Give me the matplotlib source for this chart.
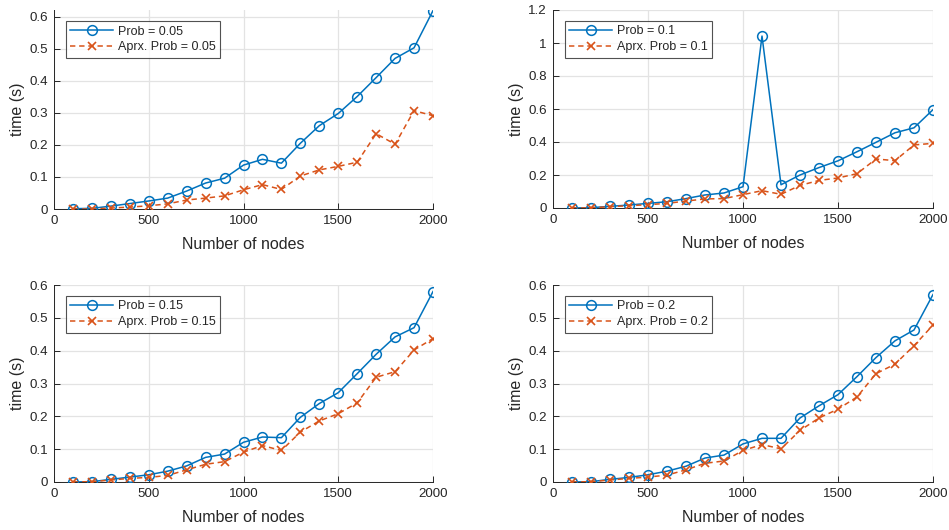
import matplotlib
matplotlib.use("Agg")
import matplotlib.pyplot as plt
import numpy as np

plt.rcParams['font.family'] = ['Liberation Sans', 'DejaVu Sans']

nodes = [100, 200, 300, 400, 500, 600, 700, 800, 900, 1000,
         1100, 1200, 1300, 1400, 1500, 1600, 1700, 1800, 1900, 2000]

exact_005 = [0.001, 0.002, 0.009, 0.017, 0.025, 0.034, 0.056, 0.081, 0.096, 0.137,
             0.155, 0.143, 0.205, 0.260, 0.298, 0.351, 0.410, 0.470, 0.503, 0.619]
aprx_005 = [0.000, 0.000, 0.003, 0.006, 0.010, 0.016, 0.028, 0.034, 0.041, 0.060,
            0.076, 0.061, 0.103, 0.122, 0.133, 0.146, 0.235, 0.202, 0.307, 0.291]

exact_01 = [0.000, 0.002, 0.010, 0.018, 0.028, 0.038, 0.057, 0.079, 0.091, 0.129,
            1.042, 0.141, 0.200, 0.245, 0.286, 0.341, 0.398, 0.456, 0.486, 0.596]
aprx_01 = [0.000, 0.001, 0.008, 0.014, 0.020, 0.028, 0.042, 0.055, 0.057, 0.081,
           0.105, 0.083, 0.137, 0.167, 0.182, 0.208, 0.297, 0.287, 0.382, 0.392]

exact_015 = [0.000, 0.001, 0.008, 0.015, 0.022, 0.033, 0.049, 0.075, 0.085, 0.121,
             0.137, 0.135, 0.197, 0.239, 0.272, 0.330, 0.389, 0.442, 0.470, 0.580]
aprx_015 = [0.000, 0.001, 0.006, 0.011, 0.014, 0.020, 0.037, 0.054, 0.062, 0.091,
            0.111, 0.096, 0.152, 0.186, 0.208, 0.241, 0.319, 0.336, 0.402, 0.437]

exact_02 = [0.000, 0.001, 0.008, 0.014, 0.022, 0.033, 0.048, 0.073, 0.082, 0.116,
            0.133, 0.133, 0.195, 0.232, 0.266, 0.321, 0.379, 0.430, 0.463, 0.571]
aprx_02 = [0.000, 0.001, 0.006, 0.011, 0.015, 0.021, 0.037, 0.057, 0.064, 0.096,
           0.114, 0.101, 0.157, 0.195, 0.222, 0.259, 0.330, 0.359, 0.415, 0.478]

probs = ['0.05', '0.1', '0.15', '0.2']
exact = [exact_005, exact_01, exact_015, exact_02]
aprx = [aprx_005, aprx_01, aprx_015, aprx_02]
ylims = [(0, 0.62), (0, 1.2), (0, 0.6), (0, 0.6)]
yticks = [np.arange(0, 0.61, 0.1), np.arange(0, 1.21, 0.2),
          np.arange(0, 0.61, 0.1), np.arange(0, 0.61, 0.1)]
xticks = [0, 500, 1000, 1500, 2000]

W, H = 949, 530
# axes boxes in pixels: left, right, top, bottom
boxes = [(54, 433, 10.3, 209), (553, 933, 10, 208),
         (54, 433, 285, 482), (553, 933, 285, 482)]

blue = '#0072BD'
orange = '#D95319'
txt = '#262626'

fig = plt.figure(figsize=(W / 100, H / 100), dpi=100)

for i in range(4):
    l, r, t, b = boxes[i]
    ax = fig.add_axes([l / W, 1 - b / H, (r - l) / W, (b - t) / H])
    ax.plot(nodes, exact[i], '-', color=blue, lw=1.1, marker='o', ms=7,
            mfc='none', mec=blue, mew=1.1, label='Prob = ' + probs[i], zorder=3)
    ax.plot(nodes, aprx[i], '--', color=orange, lw=1.1, marker='x', ms=5.5,
            mew=1.2, label='Aprx. Prob = ' + probs[i], zorder=3,
            dashes=(3.5, 2.5))
    ax.set_xlim(0, 2000)
    ax.set_ylim(*ylims[i])
    ax.set_xticks(xticks)
    ax.set_xticklabels([str(v) for v in xticks])
    ax.set_yticks(yticks[i])
    ax.set_yticklabels(['%g' % round(v, 2) for v in yticks[i]])
    ax.grid(True, color='#e3e3e3', lw=0.9)
    ax.set_axisbelow(True)
    for s in ['top', 'right']:
        ax.spines[s].set_visible(False)
    for s in ['left', 'bottom']:
        ax.spines[s].set_color(txt)
        ax.spines[s].set_linewidth(0.7)
    ax.tick_params(direction='in', length=4, width=0.7, colors=txt,
                   labelsize=9.6, pad=4.5)
    ax.set_xlabel('Number of nodes', fontsize=11.5, color=txt)
    ax.set_ylabel('time (s)', fontsize=11.5, color=txt)
    axw = r - l
    axh = b - t
    ax.xaxis.set_label_coords(0.5, -(237 - 209) / axh)
    ax.yaxis.set_label_coords(-29 / axw, 0.5)
    leg = ax.legend(loc='upper left', bbox_to_anchor=(12 / axw, 1 - 11 / axh),
                    borderaxespad=0, fontsize=9, frameon=True, fancybox=False,
                    handlelength=3.4, handletextpad=0.4, borderpad=0.35,
                    labelspacing=0.3)
    leg.get_frame().set_edgecolor(txt)
    leg.get_frame().set_linewidth(0.8)
    for tx in leg.get_texts():
        tx.set_color(txt)

fig.savefig('out.png', dpi=100)
